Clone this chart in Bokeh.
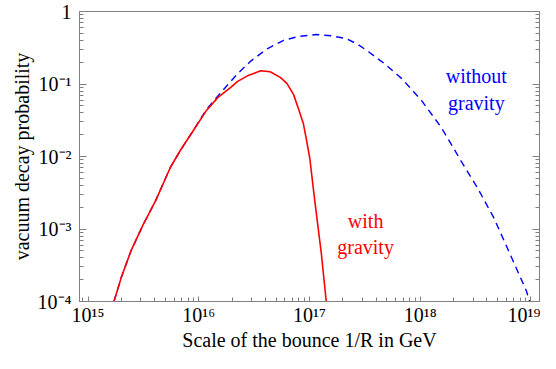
from bokeh.plotting import figure
from bokeh.models import LogAxis, FixedTicker, CustomJSTickFormatter, Range1d
from bokeh.core.properties import value
from bokeh.embed import file_html
from bokeh.resources import INLINE

# ---- data ----
# with gravity (solid red)
red_x = [1.713e15, 2.005e15, 2.446e15, 3.147e15, 4.08e15, 5.546e15, 6.806e15, 8.935e15,
         1.173e16, 1.491e16, 1.957e16, 2.245e16, 2.754e16, 3.615e16, 4.41e16, 5.445e16,
         6.246e16, 7.164e16, 7.935e16, 8.79e16, 9.404e16, 1.006e17, 1.115e17, 1.279e17,
         1.416e17]
red_y = [1.0e-4, 2.195e-4, 5.02e-4, 1.149e-3, 2.465e-3, 7.11e-3, 1.210e-2, 2.288e-2,
         4.323e-2, 6.54e-2, 9.07e-2, 0.1088, 0.1296, 0.1520, 0.1472, 0.1236,
         0.1021, 0.0719, 0.04606, 0.02858, 0.01664, 9.38e-3, 2.465e-3, 4.565e-4,
         1.0e-4]

# without gravity (dashed blue)
blue_x = [1.713e15, 2.005e15, 2.446e15, 3.147e15, 4.08e15, 5.546e15, 6.806e15, 8.935e15,
          1.173e16, 1.491e16, 2.245e16, 2.947e16, 4.148e16, 5.84e16, 8.149e16, 1.154e17,
          1.569e17, 2.133e17, 2.727e17, 3.436e17, 4.836e17, 6.806e17, 1.025e18, 1.543e18,
          2.324e18, 3.265e18, 4.594e18, 6.467e18, 9.08e18, 9.736e18]
blue_y = [1.0e-4, 2.195e-4, 5.02e-4, 1.149e-3, 2.465e-3, 7.11e-3, 1.210e-2, 2.288e-2,
          4.463e-2, 6.86e-2, 0.1390, 0.2069, 0.3060, 0.4012, 0.4556, 0.4809,
          0.4629, 0.4233, 0.3532, 0.2764, 0.1869, 0.1186, 0.05943, 0.02541,
          8.80e-3, 3.764e-3, 1.449e-3, 4.52e-4, 1.406e-4, 1.0e-4]

x_major = [1e15, 1e16, 1e17, 1e18, 1e19]
y_major = [1e-4, 1e-3, 1e-2, 1e-1, 1.0]
mantissas = [2, 3, 4, 5, 6, 7, 8, 9]

label_without = ["without", "gravity"]
label_with = ["with", "gravity"]

FONT = "Liberation Serif"
GRAY = "#808080"

x_minor = [m * d for d in [1e14] + x_major for m in mantissas]
y_minor = [m * d for d in [1e-5] + y_major for m in mantissas]

p = figure(width=540, height=353, x_axis_type="log", y_axis_type="log",
           x_range=Range1d(8.37e14, 1.194e19), y_range=Range1d(1e-4, 1.0),
           output_backend="svg", toolbar_location=None,
           min_border_left=79, min_border_right=1, min_border_top=11,
           min_border_bottom=52)
p.grid.visible = False
p.outline_line_color = GRAY
p.outline_line_width = 1
p.background_fill_color = "white"
p.border_fill_color = "white"

fmt_code = """
const sup = {"0":"\u2070","1":"\u00b9","2":"\u00b2","3":"\u00b3","4":"\u2074",
             "5":"\u2075","6":"\u2076","7":"\u2077","8":"\u2078","9":"\u2079","-":"\u207b"};
const e = Math.round(Math.log10(tick));
if (e === 0) { return "1"; }
return "10" + String(e).split("").map(c => sup[c]).join("");
"""


def style_axis(ax, major, minor, major_len, minor_len, standoff, code):
    ax.ticker = FixedTicker(ticks=major, minor_ticks=minor)
    ax.formatter = CustomJSTickFormatter(code=code)
    ax.axis_line_color = GRAY
    ax.major_tick_line_color = GRAY
    ax.minor_tick_line_color = GRAY
    ax.major_tick_in = major_len
    ax.major_tick_out = 0
    ax.minor_tick_in = minor_len
    ax.minor_tick_out = 0
    ax.major_label_text_font = FONT
    ax.major_label_text_font_size = "20px"
    ax.major_label_text_color = "black"
    ax.major_label_standoff = standoff
    ax.axis_label_text_font = FONT
    ax.axis_label_text_font_size = "20px"
    ax.axis_label_text_font_style = "normal"
    ax.axis_label_text_color = "black"


xa = p.xaxis[0]
style_axis(xa, x_major, x_minor, 5, 4, 2, fmt_code)
xa.axis_label = "Scale of the bounce 1/R in GeV"
xa.axis_label_standoff = 0

ya = p.yaxis[0]
style_axis(ya, y_major, y_minor, 7, 4, 8, fmt_code)
ya.axis_label = "vacuum decay probability"
ya.axis_label_standoff = 2

ra = LogAxis()
style_axis(ra, y_major, y_minor, 7, 4, -12, "return '';")
ra.major_label_text_font_size = "0px"
p.add_layout(ra, "right")

p.line(blue_x, blue_y, line_color="#0000ff", line_width=1.4, line_dash="7 5")
p.line(red_x, red_y, line_color="#ff0000", line_width=1.6)

p.text(x=[3.21e18, 3.21e18], y=[0.1297, 0.0552], text=label_without,
       text_font=value(FONT), text_font_size="20px", text_color="#0000ff",
       text_align="center", text_baseline="alphabetic")
p.text(x=[3.21e17, 3.21e17], y=[1.30e-3, 5.57e-4], text=label_with,
       text_font=value(FONT), text_font_size="20px", text_color="#ff0000",
       text_align="center", text_baseline="alphabetic")

open("out.html", "w").write(file_html(p, INLINE))
